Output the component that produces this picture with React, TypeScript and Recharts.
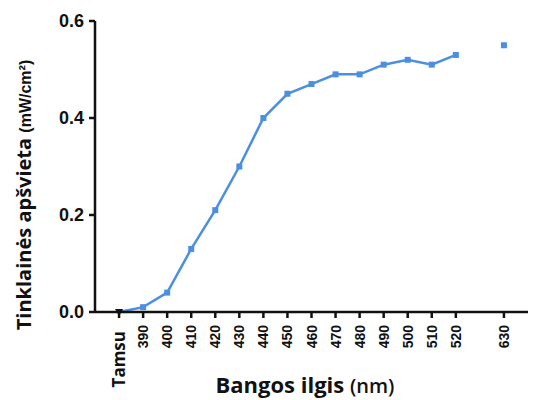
import { LineChart, Line, XAxis, YAxis } from "recharts"

// wavelength categories; "" marks the empty slot between 520 and 630
const categories = ["Tamsu", "390", "400", "410", "420", "430", "440", "450", "460", "470", "480", "490", "500", "510", "520", "", "630"]
const irradiance: (number | null)[] = [0, 0.01, 0.04, 0.13, 0.21, 0.3, 0.4, 0.45, 0.47, 0.49, 0.49, 0.51, 0.52, 0.51, 0.53, null, 0.55]
const yTicks = [0, 0.2, 0.4, 0.6]

const data = categories.map((label, i) => ({ x: i, label, value: irradiance[i] }))
const xTicks = data.filter((d) => d.label !== "").map((d) => d.x)

const BLUE = "#4b8fe2"
const ARIAL = "Arial, 'Liberation Sans', sans-serif"
const OPEN = "'Open Sans', Arial, sans-serif"

function XTick(props: any) {
  const { x, y, payload } = props
  const label = categories[payload.value] ?? ""
  const dark = label === "Tamsu"
  return (
    <text
      x={0}
      y={0}
      transform={`translate(${x + (dark ? 6 : 5)},${y + (dark ? 11 : 5)}) rotate(-90)`}
      textAnchor="end"
      fontFamily={dark ? OPEN : ARIAL}
      fontWeight="bold"
      fontSize={dark ? 17 : 14}
      fill="#111"
    >
      {label}
    </text>
  )
}

function Marker(props: any) {
  const { cx, cy, index } = props
  if (cx == null || cy == null || props.value == null) return <g key={index} />
  if (index === 0) {
    return <path key={index} d={`M${cx - 4},${cy - 3} L${cx + 4},${cy - 3} L${cx},${cy + 4} Z`} fill="#111" />
  }
  return <rect key={index} x={cx - 3} y={cy - 3} width={6} height={6} fill={BLUE} />
}

export default function App() {
  return (
    <div style={{ position: "absolute", left: 0, top: 0, width: 535, height: 400, background: "#fff" }}>
      <LineChart width={535} height={400} data={data} margin={{ top: 21, right: 7, bottom: 58, left: 35 }}>
        <XAxis
          dataKey="x"
          type="number"
          domain={[-0.66, 16.66]}
          ticks={xTicks}
          interval={0}
          height={30}
          tick={<XTick />}
          tickSize={6}
          stroke="#111"
          strokeWidth={2.5}
          allowDecimals={false}
        />
        <YAxis
          type="number"
          domain={[0, 0.6]}
          ticks={yTicks}
          tickFormatter={(v: number) => v.toFixed(1)}
          width={60}
          tickSize={6}
          tickMargin={5}
          stroke="#111"
          strokeWidth={2.5}
          tick={{ fontFamily: ARIAL, fontWeight: "bold", fontSize: 18, fill: "#111" }}
        />
        <Line
          dataKey="value"
          stroke={BLUE}
          strokeWidth={2.5}
          dot={<Marker />}
          activeDot={false}
          connectNulls={false}
          isAnimationActive={false}
          type="linear"
        />
        <text
          x={0}
          y={0}
          transform="translate(31,195) rotate(-90)"
          textAnchor="middle"
          fontFamily={OPEN}
          fontWeight="bold"
          fontSize={20}
          fill="#111"
        >
          Tinklainės apšvieta{"  "}
          <tspan fontFamily={ARIAL} fontSize={16}>(mW/cm²)</tspan>
        </text>
        <text x={305} y={393} textAnchor="middle" fontFamily={OPEN} fontWeight="bold" fontSize={22} fill="#111">
          Bangos ilgis{"  "}
          <tspan fontSize={20} fontWeight="600">(nm)</tspan>
        </text>
      </LineChart>
    </div>
  )
}
